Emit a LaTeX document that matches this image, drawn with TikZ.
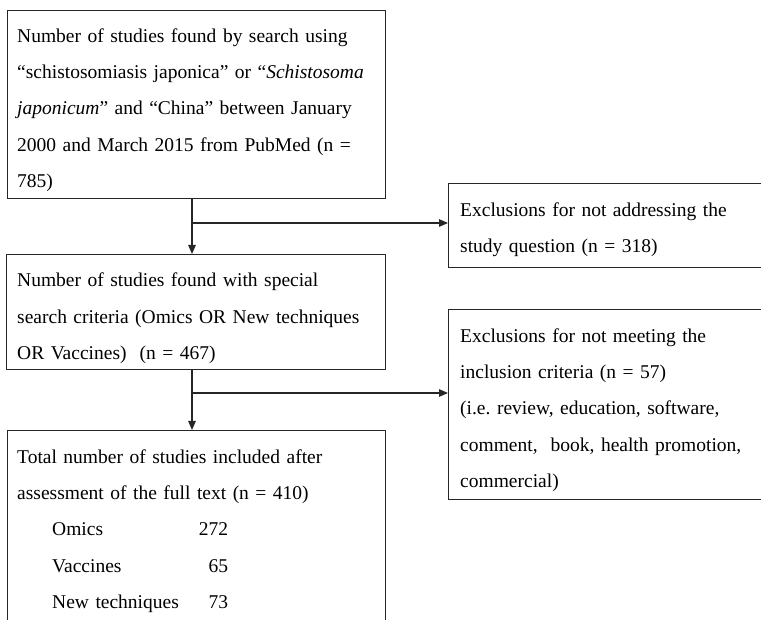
\documentclass[tikz,border=0pt]{standalone}
\usepackage{fontspec}
\setmainfont{Liberation Serif}
\usetikzlibrary{arrows.meta}
\usetikzlibrary{positioning}

\tikzset{
  flowbox/.style={draw=black!85, line width=1.3pt, inner sep=0pt, anchor=north west},
  flowtext/.style={inner sep=0pt, anchor=north west, align=left, text width=#1,
    font=\fontsize{19.5}{36.4}\selectfont},
  flowarrow/.style={draw=black!85, line width=1.3pt, -{Triangle[length=9pt,width=7.5pt]}},
}

\begin{document}
\begin{tikzpicture}[x=1pt,y=-1pt]
  \pgfmathsetmacro{\StemX}{192}
  \pgfmathsetmacro{\BranchOne}{223}
  \pgfmathsetmacro{\BranchTwo}{393}
  \useasboundingbox (0,0) rectangle (761,620);

  % left column
  \node[flowbox, minimum width=378pt, minimum height=188pt] (search) at (7,10) {};
  \node[flowbox, minimum width=379pt, minimum height=115pt] (special) at (6,254) {};
  \node[flowbox, minimum width=378pt, minimum height=196pt] (total) at (7,430) {};

  % right column (cut at the page edge)
  \node[flowbox, minimum width=318pt, minimum height=84pt] (exclone) at (448,183) {};
  \node[flowbox, minimum width=318pt, minimum height=190pt] (excltwo) at (448,309) {};

  % texts
  \node[flowtext=370pt, below right=6.5pt and 10pt of search.north west] (search-text)
    {\strut Number of studies found by search using\\
     “schistosomiasis japonica” or “\textit{Schistosoma}\\
     \textit{japonicum}” and “China” between January\\
     2000 and March 2015 from PubMed (n =\\
     785)};
  \node[flowtext=370pt, below right=7pt and 11pt of special.north west] (special-text)
    {\strut Number of studies found with special\\
     search criteria (Omics OR New techniques\\
     OR Vaccines) \ (n = 467)};
  \node[flowtext=370pt, below right=7.5pt and 10pt of total.north west] (total-text)
    {\strut Total number of studies included after\\
     assessment of the full text (n = 410)\\
     \hspace*{35pt}\rlap{Omics}\hspace*{176pt}\llap{272}\\
     \hspace*{35pt}\rlap{Vaccines}\hspace*{176pt}\llap{65}\\
     \hspace*{35pt}\rlap{New techniques}\hspace*{176pt}\llap{73}};
  \node[flowtext=300pt, below right=7.5pt and 12pt of exclone.north west] (exclone-text)
    {\strut Exclusions for not addressing the\\
     study question (n = 318)};
  \node[flowtext=300pt, below right=7.5pt and 12pt of excltwo.north west] (excltwo-text)
    {\strut Exclusions for not meeting the\\
     inclusion criteria (n = 57)\\
     (i.e.\ review, education, software,\\
     comment, \ book, health promotion,\\
     commercial)};

  % connectors
  \coordinate (forkone) at (\StemX,\BranchOne);
  \coordinate (forktwo) at (\StemX,\BranchTwo);
  \draw[flowarrow] (forkone |- search.south) -- (forkone |- special.north);
  \draw[flowarrow] (forkone) -- (forkone -| exclone.west);
  \draw[flowarrow] (forktwo |- special.south) -- (forktwo |- total.north);
  \draw[flowarrow] (forktwo) -- (forktwo -| excltwo.west);
\end{tikzpicture}
\end{document}
